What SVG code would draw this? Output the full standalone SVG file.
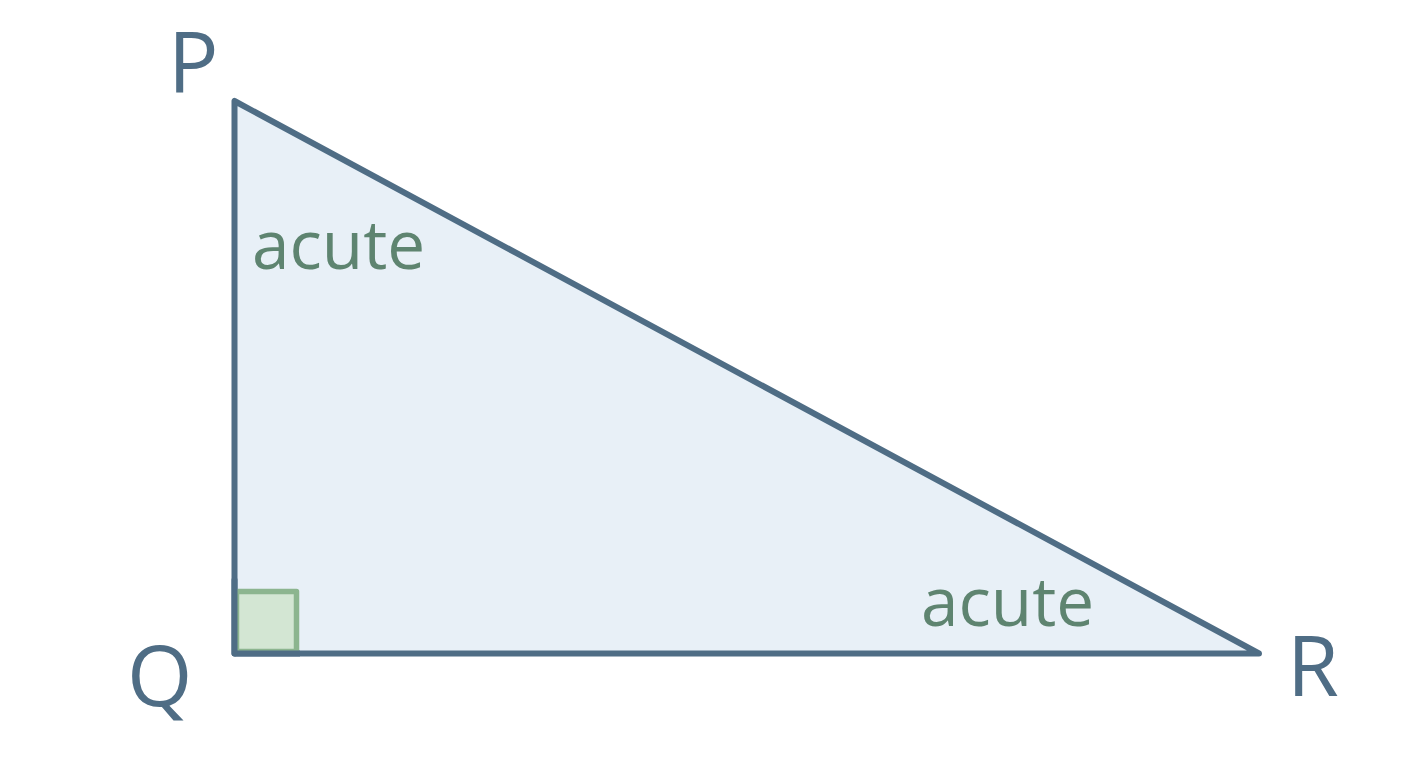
<svg xmlns="http://www.w3.org/2000/svg" width="1408" height="768" viewBox="0 0 1408 768">
<style>
.vert{font-family:"Open Sans","Noto Sans",sans-serif;font-size:84px;fill:#4f6d85}
.ang{font-family:"Open Sans","Noto Sans",sans-serif;font-size:67.5px;fill:#5e8470}
</style>
<rect width="1408" height="768" fill="#ffffff"/>
<g id="triangle">
<polygon points="234.5,101 234.5,653.5 1259,653.5" fill="#e8f0f7" stroke="#4f6d85" stroke-width="6" stroke-linejoin="round"/>
</g>
<g id="right-angle">
<rect x="236.5" y="591.5" width="60" height="60" fill="#d3e6d3" stroke="#8cb58f" stroke-width="5.5" stroke-linejoin="round"/>
<line x1="234.5" y1="653.5" x2="300" y2="653.5" stroke="#4f6d85" stroke-width="6"/>
<line x1="234.5" y1="580" x2="234.5" y2="653.5" stroke="#4f6d85" stroke-width="6" stroke-linecap="round"/>
</g>
<g id="label-P"><text class="vert" x="168" y="93">P</text></g>
<g id="label-Q"><text class="vert" x="127" y="706">Q</text></g>
<g id="label-R"><text class="vert" x="1287" y="696">R</text></g>
<g id="angle-P"><text class="ang" x="252" y="269">acute</text></g>
<g id="angle-R"><text class="ang" x="921" y="626">acute</text></g>
</svg>
